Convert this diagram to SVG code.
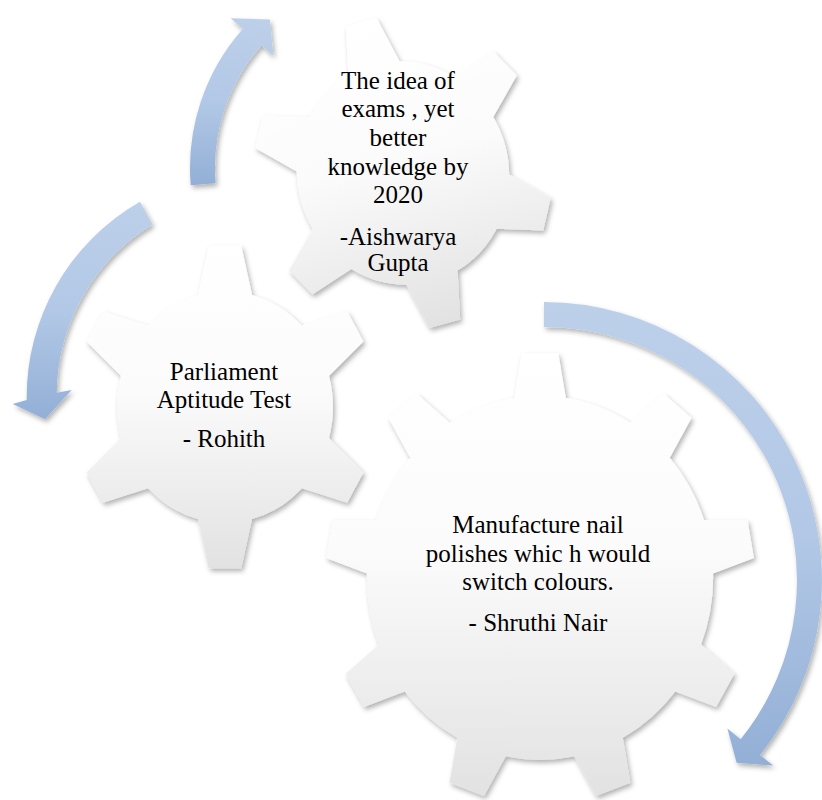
<svg xmlns="http://www.w3.org/2000/svg" xmlns:xlink="http://www.w3.org/1999/xlink" width="822" height="800" viewBox="0 0 822 800">
  <defs>
    <linearGradient id="gearFill" x1="0" y1="0" x2="0" y2="1">
      <stop offset="0" stop-color="#ffffff"/>
      <stop offset="0.45" stop-color="#fbfbfb"/>
      <stop offset="1" stop-color="#e2e2e2"/>
    </linearGradient>
    <linearGradient id="arrowFill" x1="0" y1="0" x2="0" y2="1">
      <stop offset="0" stop-color="#bdd0ea"/>
      <stop offset="0.5" stop-color="#b2c8e6"/>
      <stop offset="1" stop-color="#93afd6"/>
    </linearGradient>
    <filter id="shadow" x="-20%" y="-20%" width="140%" height="140%">
      <feDropShadow dx="2" dy="3" stdDeviation="2.5" flood-color="#000000" flood-opacity="0.3"/>
    </filter>
    <path id="gear6" d="M -17.8,-68.73 L -10.7,-99 L 10.7,-99 L 17.8,-68.73 A 71 71 0 0 1 50.62,-49.78 L 80.38,-58.77 L 91.08,-40.23 L 68.42,-18.96 A 71 71 0 0 1 68.42,18.96 L 91.08,40.23 L 80.38,58.77 L 50.62,49.78 A 71 71 0 0 1 17.8,68.73 L 10.7,99 L -10.7,99 L -17.8,68.73 A 71 71 0 0 1 -50.62,49.78 L -80.38,58.77 L -91.08,40.23 L -68.42,18.96 A 71 71 0 0 1 -68.42,-18.96 L -91.08,-40.23 L -80.38,-58.77 L -50.62,-49.78 A 71 71 0 0 1 -17.8,-68.73 Z"/>
    <path id="gear9" d="M -12,-79.6 L -8.5,-99.5 L 8.5,-99.5 L 12,-79.6 A 80.5 80.5 0 0 1 41.98,-68.68 L 57.45,-81.68 L 70.47,-70.76 L 60.36,-53.26 A 80.5 80.5 0 0 1 76.31,-25.64 L 96.51,-25.64 L 99.47,-8.9 L 80.47,-2 A 80.5 80.5 0 0 1 74.93,29.41 L 90.42,42.39 L 81.92,57.11 L 62.93,50.19 A 80.5 80.5 0 0 1 38.5,70.7 L 42.02,90.59 L 26.04,96.41 L 15.94,78.9 A 80.5 80.5 0 0 1 -15.94,78.9 L -26.04,96.41 L -42.02,90.59 L -38.5,70.7 A 80.5 80.5 0 0 1 -62.93,50.19 L -81.92,57.11 L -90.42,42.39 L -74.93,29.41 A 80.5 80.5 0 0 1 -80.47,-2 L -99.47,-8.9 L -96.51,-25.64 L -76.31,-25.64 A 80.5 80.5 0 0 1 -60.36,-53.26 L -70.47,-70.76 L -57.45,-81.68 L -41.98,-68.68 A 80.5 80.5 0 0 1 -12,-79.6 Z"/>
  </defs>
  <style>
    .gear { fill: url(#gearFill); stroke: none; }
    .arrow { fill: url(#arrowFill); stroke: none; }
    .label { font-family: "Liberation Serif", "Times New Roman", serif; font-size: 25px; fill: #000000; text-anchor: middle; }
  </style>

  <rect x="0" y="0" width="822" height="800" fill="#ffffff"/>

  <g id="connectors" filter="url(#shadow)">
    <path id="arrow-top" class="arrow" d="M 190.7,185.2 A 210 210 0 0 1 242.7,28.9 L 230.7,18.3 L 269.9,19.4 L 273.4,56 L 261.4,45.4 A 185 185 0 0 0 215.6,183.2 Z"/>
    <path id="arrow-left" class="arrow" d="M 140,201.7 A 225 225 0 0 0 26.7,400 L 12.7,404 L 45,419.3 L 71.7,390 L 56.7,392.7 A 199 199 0 0 1 152.6,224.5 Z"/>
    <path id="arrow-right" class="arrow" d="M 544,302 A 278 278 0 0 1 760,754.9 L 773.2,765.6 L 736.6,762.8 L 727.4,728.5 L 740.6,739.2 A 253 253 0 0 0 544,327 Z"/>
  </g>

  <g id="gear-aishwarya">
    <g filter="url(#shadow)">
      <use xlink:href="#gear6" href="#gear6" class="gear" transform="translate(403,173) rotate(-15.5) scale(1.49,1.58)"/>
    </g>
    <text class="label" x="398" y="89">The idea of</text>
    <text class="label" x="398" y="117">exams , yet</text>
    <text class="label" x="398" y="146">better</text>
    <text class="label" x="398" y="175">knowledge by</text>
    <text class="label" x="398" y="203">2020</text>
    <text class="label" x="398" y="245">-Aishwarya</text>
    <text class="label" x="398" y="271">Gupta</text>
  </g>

  <g id="gear-rohith">
    <g filter="url(#shadow)">
      <use xlink:href="#gear6" href="#gear6" class="gear" transform="translate(225,407) scale(1.52,1.63)"/>
    </g>
    <text class="label" x="224" y="380">Parliament</text>
    <text class="label" x="224" y="408">Aptitude Test</text>
    <text class="label" x="224" y="447">- Rohith</text>
  </g>

  <g id="gear-shruthi">
    <g filter="url(#shadow)">
      <use xlink:href="#gear9" href="#gear9" class="gear" transform="translate(540,578) scale(2.15,2.26)"/>
    </g>
    <text class="label" x="538" y="533">Manufacture nail</text>
    <text class="label" x="538" y="562">polishes whic h would</text>
    <text class="label" x="538" y="590">switch colours.</text>
    <text class="label" x="538" y="631">- Shruthi Nair</text>
  </g>
</svg>
